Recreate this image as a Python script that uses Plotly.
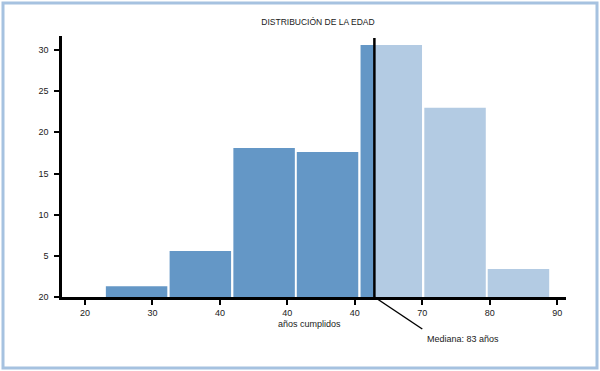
import plotly.graph_objects as go

# ---- data ----
bin_left = [23.1, 32.55, 42.0, 51.4, 60.85, 70.3, 79.7]
counts = [1.3, 5.6, 18.1, 17.6, 30.6, 23.0, 3.4]
bin_width = 9.43
median_age = 62.9
x_tick_vals = [20, 30, 40, 50, 60, 70, 80, 90]
x_tick_text = ["20", "30", "40", "40", "40", "70", "80", "90"]
y_tick_vals = [0, 5, 10, 15, 20, 25, 30]
y_tick_text = ["20", "5", "10", "15", "20", "25", "30"]
title_text = "DISTRIBUCIÓN DE LA EDAD"
x_title = "años cumplidos"
median_label = "Mediana: 83 años"

DARK = "#6497c6"
LIGHT = "#b3cbe3"
GAP = 0.32
FONT = "Liberation Sans"
TXT = "#1a1a1a"

xs, ws, ys, cs = [], [], [], []
for left, c in zip(bin_left, counts):
    right = left + bin_width - GAP
    if right <= median_age:
        xs.append((left + right) / 2); ws.append(right - left); ys.append(c); cs.append(DARK)
    elif left >= median_age:
        xs.append((left + right) / 2); ws.append(right - left); ys.append(c); cs.append(LIGHT)
    else:
        xs.append((left + median_age) / 2); ws.append(median_age - left); ys.append(c); cs.append(DARK)
        xs.append((median_age + right) / 2); ws.append(right - median_age); ys.append(c); cs.append(LIGHT)

fig = go.Figure(go.Bar(x=xs, y=ys, width=ws, marker=dict(color=cs, line=dict(width=0)),
                       hoverinfo="skip"))

L, R, T, B = 62, 34, 36, 74
W, H = 600, 371
pw, ph = W - L - R, H - T - B

def px_x(px):
    return (px - L) / pw

def px_y(py):
    return (H - B - py) / ph

fig.update_layout(
    width=W, height=H,
    margin=dict(l=L, r=R, t=T, b=B),
    paper_bgcolor="white", plot_bgcolor="white",
    showlegend=False,
    font=dict(family=FONT, size=9, color=TXT),
    title=dict(text=title_text, x=px_x(318), xref="paper", xanchor="center",
               y=1 - 22 / H, yref="container", yanchor="middle",
               font=dict(family=FONT, size=8.5, color=TXT)),
    xaxis=dict(range=[16.6, 91.3], tickvals=x_tick_vals, ticktext=x_tick_text,
               showline=True, linecolor="black", linewidth=2.5, ticks="outside",
               ticklen=5, tickwidth=2, tickcolor="black", showgrid=False, zeroline=False,
               fixedrange=True),
    yaxis=dict(range=[0, 31.7], tickvals=y_tick_vals, ticktext=y_tick_text,
               showline=True, linecolor="black", linewidth=2.5, ticks="outside",
               ticklen=5, tickwidth=2, tickcolor="black", showgrid=False, zeroline=False,
               ticklabelstandoff=4, fixedrange=True),
)

# median line and leader
fig.add_shape(type="line", xref="x", yref="paper", x0=median_age, x1=median_age,
              y0=0, y1=px_y(38), line=dict(color="black", width=2.5))
fig.add_shape(type="line", xref="x", yref="paper", x0=median_age, x1=70.0,
              y0=0, y1=px_y(329), line=dict(color="black", width=1.5))
fig.add_annotation(text=median_label, xref="x", yref="paper", x=70.4, y=px_y(339),
                   xanchor="left", yanchor="middle", showarrow=False,
                   font=dict(family=FONT, size=9, color=TXT))
fig.add_annotation(text=x_title, xref="paper", yref="paper", x=px_x(309), y=px_y(324),
                   xanchor="center", yanchor="middle", showarrow=False,
                   font=dict(family=FONT, size=9, color=TXT))
# frame
fig.add_shape(type="rect", xref="paper", yref="paper",
              x0=px_x(3), x1=px_x(597), y0=px_y(368), y1=px_y(3),
              line=dict(color="#a6c2e0", width=3), fillcolor="rgba(0,0,0,0)")

fig.write_html("out.html", config={"displayModeBar": False},
               post_script="document.body.style.margin='0';")
